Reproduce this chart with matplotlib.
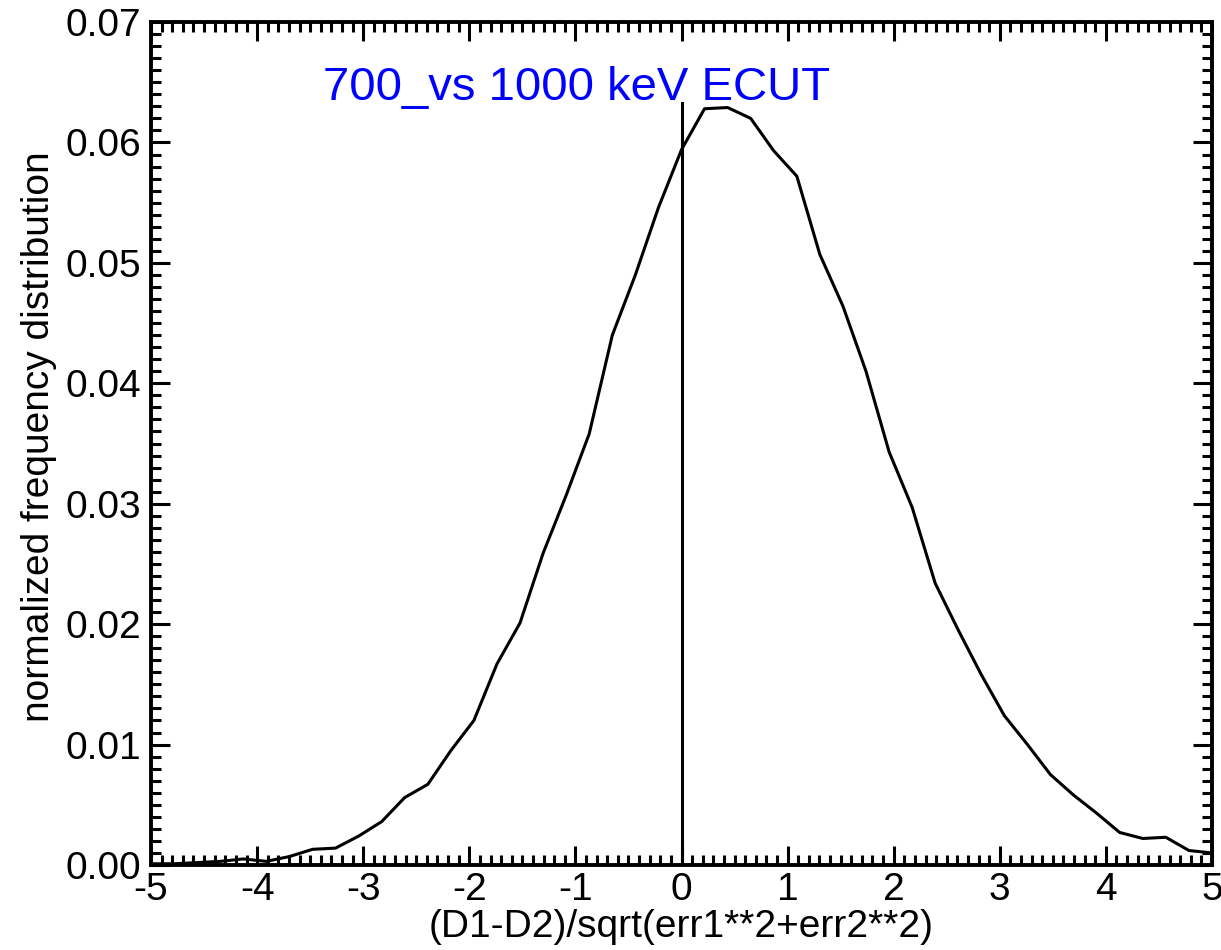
import numpy as np
import matplotlib.pyplot as plt
from matplotlib.ticker import MultipleLocator

# bin centres of the normalized difference histogram
x_bins = [-5.000, -4.783, -4.565, -4.348, -4.130, -3.913, -3.696, -3.478,
          -3.261, -3.043, -2.826, -2.609, -2.391, -2.174, -1.957, -1.739,
          -1.522, -1.304, -1.087, -0.870, -0.652, -0.435, -0.217, 0.000,
          0.217, 0.435, 0.652, 0.870, 1.087, 1.304, 1.522, 1.739,
          1.957, 2.174, 2.391, 2.609, 2.826, 3.043, 3.261, 3.478,
          3.696, 3.913, 4.130, 4.348, 4.565, 4.783, 5.000]
freq = [0.0001, 0.0001, 0.0002, 0.0003, 0.0005, 0.0003, 0.0007, 0.0013,
        0.0014, 0.0024, 0.0036, 0.0056, 0.0067, 0.0095, 0.0120, 0.0167,
        0.0201, 0.0259, 0.0307, 0.0358, 0.0440, 0.0490, 0.0546, 0.0594,
        0.0628, 0.0629, 0.0620, 0.0593, 0.0572, 0.0507, 0.0464, 0.0410,
        0.0343, 0.0297, 0.0234, 0.0195, 0.0158, 0.0124, 0.0100, 0.0075,
        0.0058, 0.0043, 0.0027, 0.0022, 0.0023, 0.0012, 0.0010]
zero_line_top = 0.0633

plt.rcParams['font.family'] = ['Liberation Sans', 'DejaVu Sans']

fig = plt.figure(figsize=(12.21, 9.5), dpi=100)
ax = fig.add_axes([0.1237, 0.0895, 0.8689, 0.8873])

ax.plot(x_bins, freq, color='black', lw=2.2)
ax.plot([0, 0], [0, zero_line_top], color='black', lw=2.2)

ax.text(-3.38, 0.0635, '700_vs 1000 keV ECUT', color='blue', fontsize=34,
        ha='left', va='baseline')

ax.set_xlim(-5, 5)
ax.set_ylim(0, 0.07)
ax.xaxis.set_minor_locator(MultipleLocator(0.1))
ax.yaxis.set_minor_locator(MultipleLocator(0.001))
ax.set_xticks(range(-5, 6))
ax.set_xticklabels([str(v) for v in range(-5, 6)])
ax.set_yticks(np.arange(0, 0.0701, 0.01))
ax.set_yticklabels(['%.2f' % v for v in np.arange(0, 0.0701, 0.01)])

ax.tick_params(which='both', direction='in', top=True, right=True,
               labelsize=28, width=2.2)
ax.tick_params(which='major', length=14)
ax.tick_params(which='minor', length=7)
ax.tick_params(axis='x', pad=5)
ax.tick_params(axis='y', pad=7)
for s in ax.spines.values():
    s.set_linewidth(2.8)

ax.set_xlabel('(D1-D2)/sqrt(err1**2+err2**2)', fontsize=28, labelpad=1)
ax.set_ylabel('normalized frequency distribution', fontsize=28)
ax.yaxis.set_label_coords(-0.0886, 0.508)

fig.savefig('out.png', dpi=100)
